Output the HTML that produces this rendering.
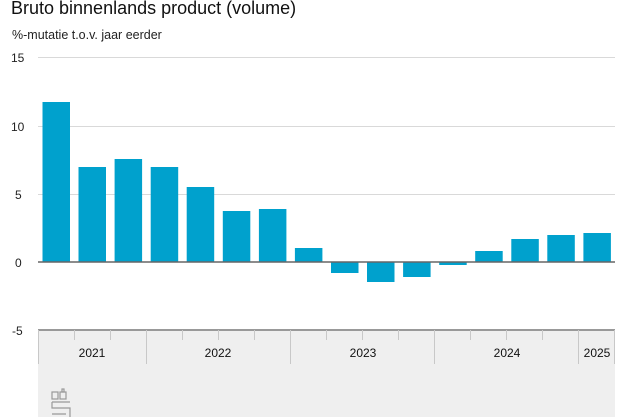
<!DOCTYPE html>
<html><head><meta charset="utf-8"><style>
html,body{margin:0;padding:0;background:#fff;}
svg{display:block;font-family:"Liberation Sans",Arial,sans-serif;}
</style></head><body>
<svg width="626" height="417" viewBox="0 0 626 417" xmlns="http://www.w3.org/2000/svg">
<text x="11" y="14" font-size="18" fill="#111">Bruto binnenlands product (volume)</text>
<text x="12" y="39" font-size="12.5" fill="#222">%-mutatie t.o.v. jaar eerder</text>
<rect x="38" y="330" width="577" height="87" fill="#efefef"/>
<g stroke="#d9d9d9" stroke-width="1">
<line x1="38" y1="57.5" x2="615" y2="57.5"/>
<line x1="38" y1="126.5" x2="615" y2="126.5"/>
<line x1="38" y1="194.5" x2="615" y2="194.5"/>
</g>
<g font-size="12" fill="#222">
<text x="11" y="62">15</text>
<text x="11" y="131">10</text>
<text x="15" y="199">5</text>
<text x="15" y="267">0</text>
<text x="12" y="335">-5</text>
</g>
<g fill="#00a1cd">
<rect x="42.5" y="102" width="27.5" height="160"/>
<rect x="78.5" y="167" width="27.5" height="95"/>
<rect x="114.6" y="159" width="27.5" height="103"/>
<rect x="150.7" y="167" width="27.5" height="95"/>
<rect x="186.7" y="187" width="27.5" height="75"/>
<rect x="222.8" y="211" width="27.5" height="51"/>
<rect x="258.9" y="209" width="27.5" height="53"/>
<rect x="294.9" y="248" width="27.5" height="14"/>
<rect x="331" y="262" width="27.5" height="11"/>
<rect x="367" y="262" width="27.5" height="20"/>
<rect x="403.1" y="262" width="27.5" height="15"/>
<rect x="439.2" y="262" width="27.5" height="3"/>
<rect x="475.2" y="251" width="27.5" height="11"/>
<rect x="511.3" y="239" width="27.5" height="23"/>
<rect x="547.3" y="235" width="27.5" height="27"/>
<rect x="583.4" y="233" width="27.5" height="29"/>
</g>
<line x1="38" y1="262" x2="615" y2="262" stroke="#666" stroke-width="1.5"/>
<line x1="38" y1="330" x2="615" y2="330" stroke="#999" stroke-width="2"/>
<g stroke="#c8c8c8" stroke-width="1">
<line x1="38.5" y1="330" x2="38.5" y2="364"/>
<line x1="146.5" y1="330" x2="146.5" y2="364"/>
<line x1="290.5" y1="330" x2="290.5" y2="364"/>
<line x1="434.5" y1="330" x2="434.5" y2="364"/>
<line x1="578.5" y1="330" x2="578.5" y2="364"/>
<line x1="614.5" y1="330" x2="614.5" y2="364"/>
<line x1="74.5" y1="330" x2="74.5" y2="340"/>
<line x1="110.5" y1="330" x2="110.5" y2="340"/>
<line x1="182.5" y1="330" x2="182.5" y2="340"/>
<line x1="218.5" y1="330" x2="218.5" y2="340"/>
<line x1="254.5" y1="330" x2="254.5" y2="340"/>
<line x1="326.5" y1="330" x2="326.5" y2="340"/>
<line x1="362.5" y1="330" x2="362.5" y2="340"/>
<line x1="398.5" y1="330" x2="398.5" y2="340"/>
<line x1="470.5" y1="330" x2="470.5" y2="340"/>
<line x1="506.5" y1="330" x2="506.5" y2="340"/>
<line x1="542.5" y1="330" x2="542.5" y2="340"/>
</g>
<g font-size="12" fill="#111" text-anchor="middle">
<text x="92" y="357">2021</text>
<text x="218" y="357">2022</text>
<text x="363" y="357">2023</text>
<text x="507" y="357">2024</text>
<text x="597" y="357">2025</text>
</g>
<g fill="none" stroke="#999" stroke-width="1.2">
<rect x="52" y="392" width="6" height="7"/>
<rect x="60" y="392" width="6" height="7"/>
<rect x="62" y="389" width="2" height="3"/>
<path d="M52 402 H70 M52 402 V408 H70 V417 M52 414 H66"/>
</g>
</svg>
</body></html>
